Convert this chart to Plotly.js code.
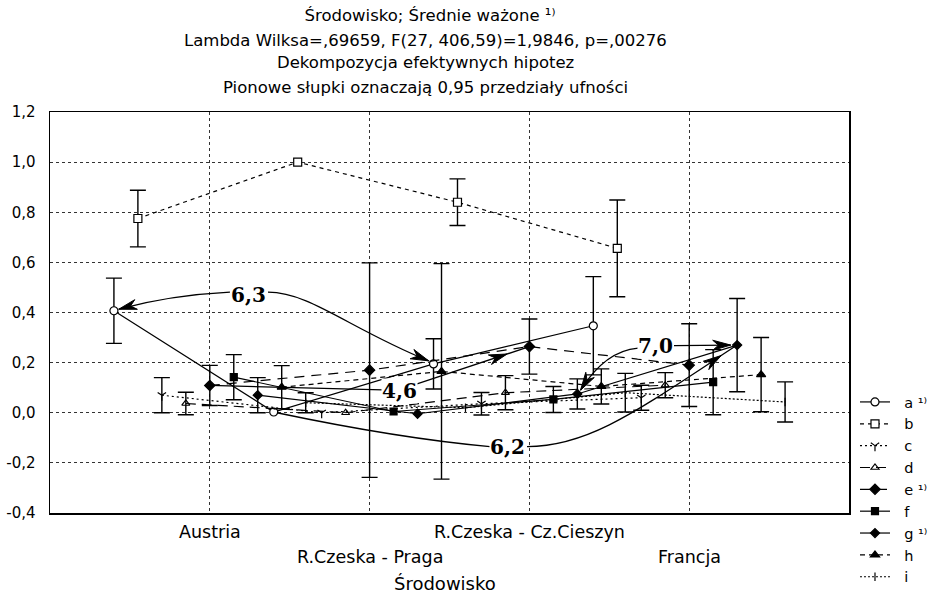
<!DOCTYPE html>
<html><head><meta charset="utf-8">
<script src="https://cdn.plot.ly/plotly-3.0.1.min.js"></script>
<style>html,body{margin:0;padding:0;background:#fff;}</style>
</head><body>
<div id="chart" style="width:939px;height:596px;"></div>
<script>
// ---------------- DATA ----------------
const categories = ['Austria', 'R.Czeska - Praga', 'R.Czeska - Cz.Cieszyn', 'Francja'];
const seriesNames = ['a \u00b9\u207e', 'b', 'c', 'd', 'e \u00b9\u207e', 'f', 'g \u00b9\u207e', 'h', 'i'];

// weighted means (Austria, Praga, Cz.Cieszyn, Francja)
const a_mean = [0.407, 0.003, 0.195, 0.347];
const b_mean = [0.775, 1.000, 0.840, 0.656];
const c_mean = [0.070, 0.000, 0.036, 0.060];
const d_mean = [0.037, 0.000, 0.080, 0.110];
const e_mean = [0.109, 0.170, 0.264, 0.190];
const f_mean = [0.142, 0.005, 0.053, 0.122];
const g_mean = [0.070, -0.004, 0.075, 0.270];
const h_mean = [0.102, 0.165, 0.105, 0.152];
const i_mean = [0.040, 0.020, 0.080, 0.043];

// 0.95 confidence interval half-widths (NaN = no bar drawn)
const a_ci = [0.130, NaN, 0.100, 0.196];
const b_ci = [0.113, NaN, 0.093, 0.193];
const c_ci = [0.070, NaN, 0.045, 0.050];
const d_ci = [0.045, NaN, 0.068, 0.050];
const e_ci = [0.080, 0.428, 0.110, 0.165];
const f_ci = [0.090, NaN, 0.052, 0.130];
const g_ci = [0.070, NaN, 0.060, 0.186];
const h_ci = [0.086, 0.430, 0.070, 0.148];
const i_ci = [0.040, NaN, 0.077, 0.080];

const yTickVals = [-0.4, -0.2, 0.0, 0.2, 0.4, 0.6, 0.8, 1.0, 1.2];
const yTickText = ['-0,4', '-0,2', '0,0', '0,2', '0,4', '0,6', '0,8', '1,0', '1,2'];

const titleLines = [
  'Środowisko; Średnie ważone \u00b9\u207e',
  'Lambda Wilksa=,69659, F(27, 406,59)=1,9846, p=,00276',
  'Dekompozycja efektywnych hipotez',
  'Pionowe słupki oznaczają 0,95 przedziały ufności'
];
const xTitle = 'Środowisko';
const contrastLabels = ['6,3', '4,6', '6,2', '7,0'];

// ---------------- STYLE / LAYOUT ----------------
const FONT = 'DejaVu Sans';
const W = 939, H = 596, M = {l: 50, r: 90, t: 112, b: 83, autoexpand: false};
const XR = [0, 5], YR = [-0.4, 1.2];
const xScale = (W - M.l - M.r) / (XR[1] - XR[0]);   // px per x unit
const yScale = (H - M.t - M.b) / (YR[1] - YR[0]);   // px per y unit

const means = [a_mean, b_mean, c_mean, d_mean, e_mean, f_mean, g_mean, h_mean, i_mean];
const cis = [a_ci, b_ci, c_ci, d_ci, e_ci, f_ci, g_ci, h_ci, i_ci];
const offsets = [-0.6, -0.45, -0.3, -0.15, 0, 0.15, 0.3, 0.45, 0.6];
const styles = [
  {dash: 'solid',    symbol: 'circle',           size: 8, fill: '#fff'},
  {dash: '4px,4px',  symbol: 'square',           size: 8, fill: '#fff'},
  {dash: '2px,3px',  symbol: 'y-down',           size: 7, fill: '#000'},
  {dash: '10px,6px', symbol: 'triangle-up-open', size: 7, fill: '#000'},
  {dash: '10px,7px', symbol: 'diamond',          size: 8, fill: '#000'},
  {dash: 'solid',    symbol: 'square',           size: 7, fill: '#000'},
  {dash: 'solid',    symbol: 'diamond',          size: 7, fill: '#000'},
  {dash: '5px,4px',  symbol: 'triangle-up',      size: 8, fill: '#000'},
  {dash: '2px,2px',  symbol: 'line-ns',          size: 6, fill: '#000'}
];

const traces = seriesNames.map((name, k) => ({
  type: 'scatter', mode: 'lines+markers', name: '\u00a0\u00a0' + name,
  x: categories.map((c, j) => j + 1 + offsets[k]),
  y: means[k],
  error_y: {type: 'data', array: cis[k], visible: true, color: '#000', thickness: 1.4, width: 8},
  line: {color: '#000', width: 1.2, dash: styles[k].dash},
  marker: {symbol: styles[k].symbol, size: styles[k].size, color: styles[k].fill,
           line: {color: '#000', width: 1.2}},
  cliponaxis: false
}));

// helpers for the contrast annotations
function P(k, j) { return {x: j + 1 + offsets[k], y: means[k][j]}; }
const A = 0, E = 4, G = 6;
const lineStyle = {color: '#000', width: 1.3};
function curve(path) { return {type: 'path', xref: 'x', yref: 'y', line: lineStyle, path: path}; }
function arrowHead(tip, from, len, half) {
  len = len || 18; half = half || 5;
  const dx = (tip.x - from.x) * xScale, dy = (tip.y - from.y) * yScale;
  const L = Math.hypot(dx, dy), ux = dx / L, uy = dy / L, px = -uy, py = ux;
  const pts = [[0, 0],
               [-len * ux + half * px, -len * uy + half * py],
               [-0.68 * len * ux, -0.68 * len * uy],
               [-len * ux - half * px, -len * uy - half * py]];
  const path = pts.map((p, i) => (i ? 'L ' : 'M ') + (tip.x + p[0] / xScale) + ',' + (tip.y + p[1] / yScale)).join(' ') + ' Z';
  return {type: 'path', xref: 'x', yref: 'y', path: path, fillcolor: '#000', line: {color: '#000', width: 1}};
}

const a0 = P(A, 0), a1 = P(A, 1), a2 = P(A, 2);
const e0 = P(E, 0), e2 = P(E, 2);
const g2 = P(G, 2), g3 = P(G, 3);
const tipA0 = {x: a0.x + 0.03, y: a0.y + 0.006};
const tipA2 = {x: a2.x - 0.03, y: a2.y + 0.012};
const tipG2 = {x: g2.x + 0.02, y: g2.y + 0.015};

const shapes = [
  // 6,3 : a@Austria <- label -> a@Cieszyn
  curve(`M 1.126,0.481 Q 0.751,0.469 ${tipA0.x},${tipA0.y}`),
  arrowHead(tipA0, {x: 0.751, y: 0.469}),
  curve(`M 1.364,0.481 C 1.627,0.481 1.877,0.334 ${tipA2.x},${tipA2.y}`),
  arrowHead(tipA2, {x: 1.877, y: 0.334}),
  // 4,6 : e@Austria -> label -> e@Cieszyn
  curve(`M ${e0.x},${e0.y} L 2.084,0.091`),
  curve(`M 2.297,0.115 L ${e2.x},${e2.y}`),
  arrowHead({x: 2.86, y: 0.115 + (2.86 - 2.297) / (e2.x - 2.297) * (e2.y - 0.115)}, {x: 2.297, y: 0.115}),
  // 6,2 : a@Praga -> label -> g@Francja
  curve(`M ${a1.x + 0.02},${a1.y - 0.003} Q 2.19,-0.103 2.753,-0.135`),
  curve(`M 2.985,-0.135 C 3.379,-0.135 3.692,0.016 ${g3.x},${g3.y}`),
  arrowHead({x: 4.2, y: 0.016 + (4.2 - 3.692) / (g3.x - 3.692) * (g3.y - 0.016)}, {x: 3.692, y: 0.016}),
  // 7,0 : label -> g@Francja, label -> g@Cieszyn
  curve(`M 3.905,0.268 L ${g3.x - 0.04},${g3.y}`),
  arrowHead({x: g3.x - 0.04, y: g3.y}, {x: 3.905, y: 0.268}),
  curve(`M 3.68,0.258 Q 3.473,0.247 ${tipG2.x},${tipG2.y}`),
  arrowHead(tipG2, {x: 3.473, y: 0.247})
];

const labelFont = {family: 'DejaVu Serif', size: 20, color: '#000'};
const labelPos = [{x: 1.245, y: 0.469}, {x: 2.19, y: 0.088}, {x: 2.866, y: -0.135}, {x: 3.792, y: 0.266}];
const annotations = contrastLabels.map((t, i) => ({
  x: labelPos[i].x, y: labelPos[i].y, xref: 'x', yref: 'y', text: '<b>' + t + '</b>',
  showarrow: false, bgcolor: '#fff', borderpad: 0, font: labelFont
}));

// title lines 2-4
const toPaperY = py => (H - M.b - py) / (H - M.t - M.b);
const titleCenter = (425 - M.l) / (W - M.l - M.r);
const titlePy = [40, 63, 87];
for (let t = 1; t < titleLines.length; t++) {
  annotations.push({xref: 'paper', yref: 'paper', x: titleCenter, y: toPaperY(titlePy[t - 1]),
    text: titleLines[t], showarrow: false, xanchor: 'center', yanchor: 'middle',
    font: {family: FONT, size: 16.5, color: '#000'}});
}
// category labels (staggered) and axis title
categories.forEach((c, j) => {
  annotations.push({xref: 'x', yref: 'paper', x: j + 1, y: toPaperY(j % 2 === 0 ? 532 : 557),
    text: c, showarrow: false, xanchor: 'center', yanchor: 'middle',
    font: {family: FONT, size: 17.5, color: '#000'}});
});
annotations.push({xref: 'paper', yref: 'paper', x: (445 - M.l) / (W - M.l - M.r), y: toPaperY(583),
  text: xTitle, showarrow: false, xanchor: 'center', yanchor: 'middle',
  font: {family: FONT, size: 18, color: '#000'}});

const layout = {
  width: W, height: H, margin: M,
  paper_bgcolor: '#fff', plot_bgcolor: '#fff',
  font: {family: FONT, size: 15, color: '#000'},
  title: {text: titleLines[0], xref: 'container', x: 430 / W, xanchor: 'center',
          yref: 'container', y: 1 - 15 / H, yanchor: 'middle',
          font: {family: FONT, size: 16.5, color: '#000'}},
  showlegend: true,
  legend: {x: 1.0075, xanchor: 'left', y: toPaperY(386), yanchor: 'top',
           font: {family: FONT, size: 14.5}, bgcolor: 'rgba(0,0,0,0)', itemwidth: 30},
  xaxis: {range: XR, tickvals: [1, 2, 3, 4], showticklabels: false, automargin: false,
          showgrid: true, griddash: 'dot', gridcolor: '#333', gridwidth: 1,
          zeroline: false, showline: true, mirror: true, linecolor: '#000', linewidth: 1.5, ticks: ''},
  yaxis: {range: YR, tickvals: yTickVals, ticktext: yTickText, automargin: false,
          showgrid: true, griddash: 'dot', gridcolor: '#333', gridwidth: 1,
          zeroline: false, showline: true, mirror: true, linecolor: '#000', linewidth: 1.5,
          ticks: '', ticklabelstandoff: 10, tickfont: {family: FONT, size: 15}},
  shapes: shapes,
  annotations: annotations
};

Plotly.newPlot('chart', traces, layout, {displayModeBar: false, staticPlot: true});
</script>
</body></html>
